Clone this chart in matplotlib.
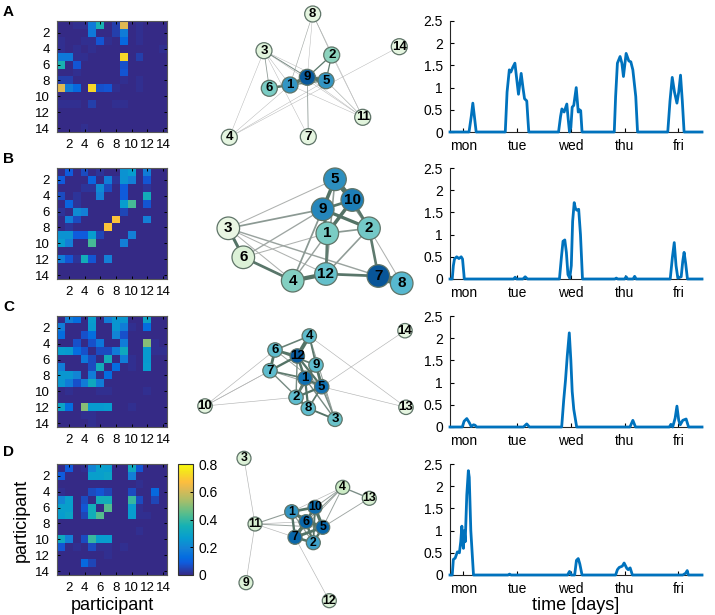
import numpy as np
import matplotlib.pyplot as plt
from matplotlib.colors import LinearSegmentedColormap
from matplotlib.patches import Circle

plt.rcParams['font.family'] = ['Liberation Sans', 'DejaVu Sans']

# MATLAB-like parula colour map
parula = LinearSegmentedColormap.from_list('parula', [
    (0.000, (0.2081, 0.1663, 0.5292)),
    (0.111, (0.0591, 0.3598, 0.8683)),
    (0.159, (0.0165, 0.4266, 0.8786)),
    (0.238, (0.0779, 0.5040, 0.8384)),
    (0.333, (0.0265, 0.6137, 0.8135)),
    (0.444, (0.0843, 0.6928, 0.7062)),
    (0.556, (0.3482, 0.7424, 0.5473)),
    (0.667, (0.6473, 0.7456, 0.4188)),
    (0.778, (0.8824, 0.7274, 0.3217)),
    (0.841, (0.9938, 0.7455, 0.2403)),
    (0.921, (0.9626, 0.8705, 0.1309)),
    (1.000, (0.9763, 0.9831, 0.0538)),
])

n_people = 14
panel_names = ['A', 'B', 'C', 'D']

# contact weights between participants (i, j, weight), symmetric
contacts_A = [
    (1, 5, 0.17), (1, 6, 0.36), (1, 8, 0.04), (1, 9, 0.62),
    (2, 5, 0.17), (2, 8, 0.04), (2, 9, 0.18),
    (3, 6, 0.08), (3, 9, 0.12),
    (5, 9, 0.72), (5, 11, 0.04),
    (6, 9, 0.07), (7, 9, 0.08),
    # weak links, only visible in the network
    (1, 3, 0.01), (1, 4, 0.01), (1, 11, 0.01), (2, 11, 0.01), (3, 4, 0.01),
    (3, 5, 0.01), (3, 7, 0.01), (3, 11, 0.01), (4, 5, 0.01), (4, 14, 0.01),
    (8, 9, 0.01), (8, 11, 0.01), (9, 11, 0.01),
]
contacts_B = [
    (1, 2, 0.09), (1, 4, 0.06), (1, 9, 0.24), (1, 10, 0.27), (1, 12, 0.18),
    (2, 5, 0.11), (2, 7, 0.18), (2, 9, 0.24), (2, 10, 0.19), (2, 12, 0.08),
    (3, 6, 0.22), (3, 7, 0.06), (3, 9, 0.09),
    (4, 6, 0.19), (4, 9, 0.09), (4, 12, 0.34),
    (5, 9, 0.27), (5, 10, 0.42), (5, 12, 0.08),
    (6, 9, 0.05), (7, 8, 0.68), (7, 12, 0.19), (9, 10, 0.19),
    (1, 6, 0.02), (2, 8, 0.02), (3, 4, 0.02), (3, 5, 0.02), (3, 12, 0.02),
]
contacts_C = [
    (1, 2, 0.18), (1, 3, 0.13), (1, 5, 0.27), (1, 7, 0.18), (1, 8, 0.25),
    (1, 9, 0.25), (1, 12, 0.30),
    (2, 5, 0.26), (2, 8, 0.25), (2, 9, 0.18), (2, 12, 0.13),
    (3, 4, 0.07), (3, 5, 0.13), (3, 8, 0.20), (3, 9, 0.07),
    (4, 5, 0.07), (4, 6, 0.16), (4, 9, 0.18), (4, 12, 0.50),
    (5, 6, 0.06), (5, 7, 0.06), (5, 8, 0.18), (5, 9, 0.32), (5, 12, 0.26),
    (6, 7, 0.34), (6, 9, 0.18), (6, 12, 0.26),
    (7, 8, 0.13), (7, 12, 0.27),
    (2, 10, 0.01), (6, 10, 0.01), (7, 10, 0.01), (10, 12, 0.01),
    (4, 13, 0.01), (5, 13, 0.01), (5, 14, 0.01),
]
contacts_D = [
    (1, 2, 0.09), (1, 5, 0.20), (1, 6, 0.28), (1, 7, 0.27), (1, 10, 0.32), (1, 11, 0.08),
    (2, 5, 0.28), (2, 6, 0.28), (2, 7, 0.30), (2, 10, 0.19),
    (4, 5, 0.06), (4, 6, 0.08), (4, 7, 0.05), (4, 10, 0.06), (4, 13, 0.12),
    (5, 6, 0.34), (5, 7, 0.34), (5, 10, 0.40), (5, 11, 0.06), (5, 13, 0.05),
    (6, 7, 0.44), (6, 10, 0.27), (7, 10, 0.27),
    (1, 4, 0.01), (3, 11, 0.01), (9, 11, 0.01), (7, 11, 0.01), (6, 11, 0.01), (7, 12, 0.01),
]

# node shading (position on GnBu) as seen in the networks
shade_A = {1: 0.72, 2: 0.45, 3: 0.12, 4: 0.1, 5: 0.72, 6: 0.5, 7: 0.1,
           8: 0.1, 9: 0.92, 11: 0.12, 14: 0.1}
shade_B = {1: 0.5, 2: 0.52, 3: 0.08, 4: 0.48, 5: 0.74, 6: 0.15, 7: 0.93,
           8: 0.6, 9: 0.77, 10: 0.8, 12: 0.56}
shade_C = {1: 0.84, 2: 0.58, 3: 0.55, 4: 0.58, 5: 0.84, 6: 0.58, 7: 0.58,
           8: 0.58, 9: 0.58, 10: 0.1, 12: 0.92, 13: 0.1, 14: 0.1}
shade_D = {1: 0.72, 2: 0.68, 3: 0.15, 4: 0.25, 5: 0.88, 6: 0.88, 7: 0.88,
           9: 0.15, 10: 0.86, 11: 0.18, 12: 0.15, 13: 0.18}

# network layouts (figure pixels)
layout_A = {8: (312.7, 14.0), 3: (264.0, 50.7), 2: (331.7, 55.0), 14: (399.3, 46.7),
            9: (307.3, 77.3), 5: (326.0, 80.7), 1: (290.0, 85.0), 6: (269.3, 88.3),
            11: (362.7, 117.3), 4: (229.3, 137.3), 7: (308.3, 136.7)}
layout_B = {5: (335.0, 179.3), 10: (352.3, 200.0), 9: (322.7, 209.3), 3: (228.3, 228.3),
            2: (369.0, 228.3), 1: (327.3, 233.3), 6: (243.3, 257.3), 12: (326.0, 274.0),
            4: (292.7, 280.7), 7: (378.3, 276.0), 8: (401.7, 283.3)}
layout_C = {4: (309.3, 336.0), 14: (405.0, 330.7), 6: (275.0, 350.0), 12: (297.3, 356.0),
            9: (316.0, 365.0), 7: (270.0, 370.7), 1: (305.0, 378.3), 5: (321.7, 386.7),
            2: (296.0, 397.3), 10: (205.0, 406.0), 13: (406.0, 407.3), 8: (308.3, 408.3),
            3: (335.0, 419.3)}
layout_D = {3: (244.0, 458.3), 4: (342.7, 487.3), 13: (369.3, 498.3), 1: (291.7, 511.7),
            10: (315.0, 507.3), 6: (306.0, 521.7), 11: (255.0, 524.0), 5: (322.7, 527.3),
            7: (295.0, 537.3), 2: (313.3, 542.7), 9: (246.0, 582.7), 12: (329.3, 600.7)}

# activity over the week: (hours since monday 00:00, value)
activity_A = [
    (6, 0), (14.5, 0), (15.5, 0.35), (16.2, 0.65), (16.9, 0.35), (17.7, 0),
    (30.7, 0), (31.5, 0.9), (32.5, 1.4), (33.2, 1.35), (34.0, 1.45), (35.0, 1.55),
    (35.8, 1.2), (36.6, 0.85), (37.8, 1.32), (38.6, 1.0), (39.3, 0.75), (40.3, 0.7),
    (40.8, 0.3), (41.2, 0),
    (54.5, 0), (55.4, 0.35), (56.0, 0.52), (57.0, 0.45), (58.2, 0.63), (58.8, 0.3),
    (59.4, 0), (60.0, 0.1), (60.6, 0.56), (61.3, 0.6), (62.4, 1.0), (63.3, 0.45),
    (63.9, 0.5), (64.4, 0.48), (65.0, 0),
    (79.4, 0), (80.0, 0.8), (80.8, 1.55), (82.0, 1.7), (82.8, 1.55), (83.5, 1.25),
    (84.7, 1.77), (85.9, 1.6), (86.8, 1.58), (87.7, 1.4), (89.0, 0.8), (89.8, 0),
    (103.3, 0), (104.3, 0.7), (105.3, 1.23), (106.3, 0.9), (107.4, 0.65), (108.2, 0.9),
    (109.0, 1.28), (109.8, 0.7), (110.6, 0), (118.6, 0),
]
activity_B = [
    (6, 0), (7.0, 0), (7.5, 0.3), (8.0, 0.45), (9.0, 0.5), (10.0, 0.46), (11.0, 0.5),
    (11.6, 0.45), (12.4, 0),
    (34.4, 0), (35.1, 0.04), (35.8, 0), (38.6, 0), (39.6, 0.05), (40.6, 0),
    (54.9, 0), (55.8, 0.5), (56.5, 0.85), (57.3, 0.88), (58.0, 0.6), (58.7, 0.1),
    (59.5, 0.02), (60.2, 0.3), (60.8, 1.3), (61.5, 1.72), (62.0, 1.6), (62.6, 1.55),
    (63.5, 1.57), (64.3, 1.0), (65.2, 0),
    (79.6, 0), (80.3, 0.02), (81.0, 0), (84.0, 0), (84.7, 0.05), (85.4, 0),
    (87.8, 0), (88.5, 0.06), (89.2, 0),
    (104.4, 0), (105.4, 0.5), (106.2, 0.82), (107.0, 0.3), (107.8, 0.02), (109.3, 0.05),
    (110.0, 0.4), (110.6, 0.6), (111.3, 0.35), (112.1, 0), (118.6, 0),
]
activity_C = [
    (6, 0), (11.5, 0), (12.3, 0.13), (13.5, 0.19), (14.6, 0.1), (15.5, 0.01),
    (16.5, 0.05), (17.2, 0.04), (17.9, 0),
    (38.8, 0), (40.3, 0.07), (41.5, 0),
    (55.9, 0), (56.8, 0.6), (57.6, 1.05), (58.4, 1.6), (59.3, 2.12), (60.0, 1.5),
    (60.6, 0.8), (61.3, 0.4), (62.6, 0),
    (86.4, 0), (87.7, 0.15), (88.9, 0),
    (104.0, 0), (104.7, 0.06), (105.5, 0.0), (106.6, 0.2), (107.4, 0.47), (108.2, 0.15),
    (108.9, 0.05), (110.0, 0.15), (111.5, 0.18), (112.6, 0), (118.6, 0),
]
activity_D = [
    (6, 0), (7.0, 0), (7.5, 0.35), (8.3, 0.38), (9.3, 0.52), (10.2, 0.5), (10.8, 0.75),
    (11.3, 1.1), (11.7, 0.7), (12.0, 0.6), (12.4, 1.0), (12.8, 0.75), (13.5, 1.8),
    (14.2, 2.35), (14.6, 2.2), (15.3, 1.0), (16.5, 0),
    (31.9, 0), (32.6, 0.02), (33.3, 0),
    (58.5, 0), (59.4, 0.08), (60.2, 0), (61.7, 0.0), (62.5, 0.33), (63.3, 0.37),
    (64.0, 0.25), (65.0, 0),
    (80.0, 0), (80.8, 0.12), (81.6, 0.17), (83.0, 0.2), (83.8, 0.27), (85.0, 0.15),
    (85.6, 0.12), (86.5, 0.16), (87.5, 0),
    (110.0, 0), (111.3, 0.04), (112.0, 0.1), (112.5, 0), (118.6, 0),
]

day_ticks = [12, 36, 60, 84, 108]
day_names = ['mon', 'tue', 'wed', 'thu', 'fri']

contacts_all = [contacts_A, contacts_B, contacts_C, contacts_D]
activity_all = [activity_A, activity_B, activity_C, activity_D]
shade_all = [shade_A, shade_B, shade_C, shade_D]
layout_all = [layout_A, layout_B, layout_C, layout_D]
node_radius = [8, 11.3, 7.2, 7]
edge_scale = [0.6, 1.2, 0.8, 0.8]
label_size = [9.5, 11, 9.5, 8.8]


def contact_matrix(contacts):
    M = np.zeros((n_people, n_people))
    for i, j, w in contacts:
        M[i - 1, j - 1] = w
        M[j - 1, i - 1] = w
    return M


def edge_color(w):
    t = min(w / 0.2, 1.0)
    light = np.array([0.72, 0.72, 0.72])
    dark = np.array([0.33, 0.45, 0.40])
    return tuple(light * (1 - t) + dark * t)


W, H = 715, 615


def px_box(left, top, w, h):
    return [left / W, 1 - (top + h) / H, w / W, h / H]


fig = plt.figure(figsize=(7.15, 6.15), dpi=100)

# one transparent axes in pixel units for the networks
ax_net = fig.add_axes([0, 0, 1, 1])
ax_net.set_xlim(0, W)
ax_net.set_ylim(H, 0)
ax_net.axis('off')
gnbu = plt.get_cmap('GnBu')

row_tops = [21, 168, 316, 464]
row_h = 111
letter_y = [12, 159, 307, 452]

for k in range(4):
    top = row_tops[k]
    M = contact_matrix(contacts_all[k])

    fig.text(3 / W, 1 - letter_y[k] / H, panel_names[k], fontsize=11,
             fontweight='bold', ha='left', va='center')

    # contact matrix
    ax = fig.add_axes(px_box(57, top, 110, row_h))
    im = ax.imshow(M, cmap=parula, vmin=0, vmax=0.8, aspect='auto',
                   interpolation='nearest', extent=(0.5, 14.5, 14.5, 0.5))
    ax.set_xticks(range(2, 15, 2))
    ax.set_yticks(range(2, 15, 2))
    ax.tick_params(direction='in', length=2, width=0.7, top=True, right=True,
                   labelsize=9.5)
    ax.tick_params(axis='x', pad=5)
    ax.tick_params(axis='y', pad=5)
    for sp in ax.spines.values():
        sp.set_color('0.35')
        sp.set_linewidth(0.8)

    # network
    pos = layout_all[k]
    shade = shade_all[k]
    r = node_radius[k]
    for i, j, w in sorted(contacts_all[k], key=lambda e: e[2]):
        (x1, y1), (x2, y2) = pos[i], pos[j]
        ax_net.plot([x1, x2], [y1, y2], color=edge_color(w),
                    lw=edge_scale[k] * (0.5 + 6 * w), solid_capstyle='round', zorder=1)
    for node, (x, y) in pos.items():
        ax_net.add_patch(Circle((x, y), r, facecolor=gnbu(shade[node]),
                                edgecolor='#5f7468', lw=0.9, zorder=3))
        ax_net.text(x, y, str(node), fontsize=label_size[k], fontweight='bold',
                    ha='center', va='center', zorder=4)

    # activity over the week
    t, v = np.array(activity_all[k]).T
    axl = fig.add_axes(px_box(450, top, 252, row_h))
    axl.plot(t, v, color='#0072bd', lw=2.0, clip_on=False, zorder=3)
    axl.set_xlim(6, 118.6)
    axl.set_ylim(0, 2.5)
    axl.set_yticks([0, 0.5, 1, 1.5, 2, 2.5])
    axl.set_yticklabels(['0', '0.5', '1', '1.5', '2', '2.5'])
    axl.set_xticks(day_ticks)
    axl.set_xticklabels(day_names)
    axl.tick_params(direction='in', length=3, width=0.8, labelsize=10)
    axl.tick_params(axis='x', pad=5)
    axl.tick_params(axis='y', pad=5)
    axl.spines['top'].set_visible(False)
    axl.spines['right'].set_visible(False)
    for side in ['left', 'bottom']:
        axl.spines[side].set_color('0.15')
        axl.spines[side].set_linewidth(0.8)

# colour bar next to the last matrix
cax = fig.add_axes(px_box(178, row_tops[3], 15, row_h))
cb = fig.colorbar(im, cax=cax, ticks=[0, 0.2, 0.4, 0.6, 0.8])
cb.ax.set_yticklabels(['0', '0.2', '0.4', '0.6', '0.8'])
cb.ax.tick_params(direction='in', length=2, width=0.7, labelsize=10, pad=4)
cb.outline.set_edgecolor('0.2')
cb.outline.set_linewidth(0.8)

fig.text(21 / W, 1 - 520 / H, 'participant', fontsize=13, rotation=90,
         ha='center', va='center')
fig.text(112 / W, 1 - 605 / H, 'participant', fontsize=13, ha='center', va='center')
fig.text(576 / W, 1 - 605 / H, 'time [days]', fontsize=13, ha='center', va='center')

fig.savefig('out.png', dpi=100)
